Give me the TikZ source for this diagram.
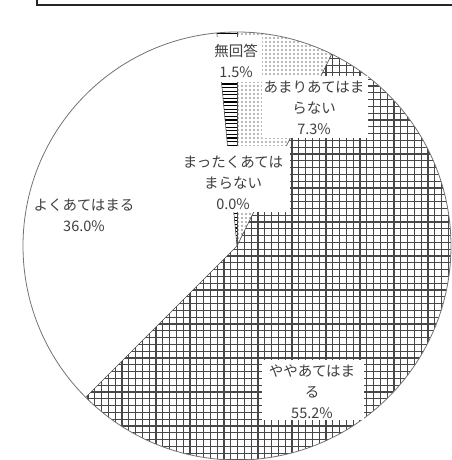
\documentclass[tikz,border=0pt]{standalone}
\usepackage{fontspec}
\newfontfamily\jpfont{Noto Sans CJK JP}
\usetikzlibrary{calc}
\def\sectorpath(#1)(#2:#3:#4){(#1) -- ++(#2:#4) arc (#2:#3:#4) -- cycle}

\begin{document}
\begin{tikzpicture}[x=1pt,y=1pt,
		lbl/.style={font=\jpfont\fontsize{14.5}{21}\selectfont, text=black!75, align=center, inner sep=0pt},
		maskbox/.style={fill=white},
		gridline/.style={black!72, line width=1.1pt}]
		%%%%% START %%%%%
		\useasboundingbox (0,0) rectangle (451,460);
		\coordinate (c) at (237,214);
		
		% title box, cut off at the top
		\draw[line width=1.6pt, black!85] (37,480) -- (37,455) -- (470,455);
		
		% ややあてはまる
		\begin{scope}
			\clip \sectorpath(c)(225:423.72:214);
			\foreach \x in {20,26.8,...,460} \draw[gridline] (\x,0) -- (\x,460);
			\foreach \y in {0,6.8,...,460} \draw[gridline] (0,\y) -- (460,\y);
		\end{scope}
		
		% あまりあてはまらない
		\begin{scope}
			\clip \sectorpath(c)(63.72:90:214);
			\foreach \x in {238,242,...,342}
				\foreach \y in {214,218,...,430} \fill[black!55] (\x,\y) circle (0.8);
		\end{scope}
		
		% 無回答
		\begin{scope}
			\clip \sectorpath(c)(90:95.4:214);
			\foreach \y in {214,217.6,...,430} \draw[black, line width=1.2pt] (205,\y) -- (242,\y);
		\end{scope}
		
		\draw[black!55, line width=0.8pt] (c) circle (214);
		\foreach \a in {90,95.4,225,63.72} \draw[black!70, line width=0.6pt] (c) -- ++(\a:214);
		
		% label boxes
		\fill[maskbox] (205,378) rectangle (262,423);
		\fill[maskbox] (262,322) rectangle (368,384);
		\fill[maskbox] (175,248) rectangle (290,314);
		\fill[maskbox] (262,40) rectangle (364,100);
		
		\node[lbl] (lblmukaito) at (236,399) {無回答\\1.5\%};
		\node[lbl] (lblamari) at (314,352) {あまりあてはま\\らない\\7.3\%};
		\node[lbl] (lblmattaku) at (233,277) {まったくあては\\まらない\\0.0\%};
		\node[lbl] (lblyoku) at (84,245) {よくあてはまる\\36.0\%};
		\node[lbl] (lblyaya) at (312,68) {ややあてはま\\る\\55.2\%};
		
		%%%%% END %%%%%
\end{tikzpicture}
\end{document}
